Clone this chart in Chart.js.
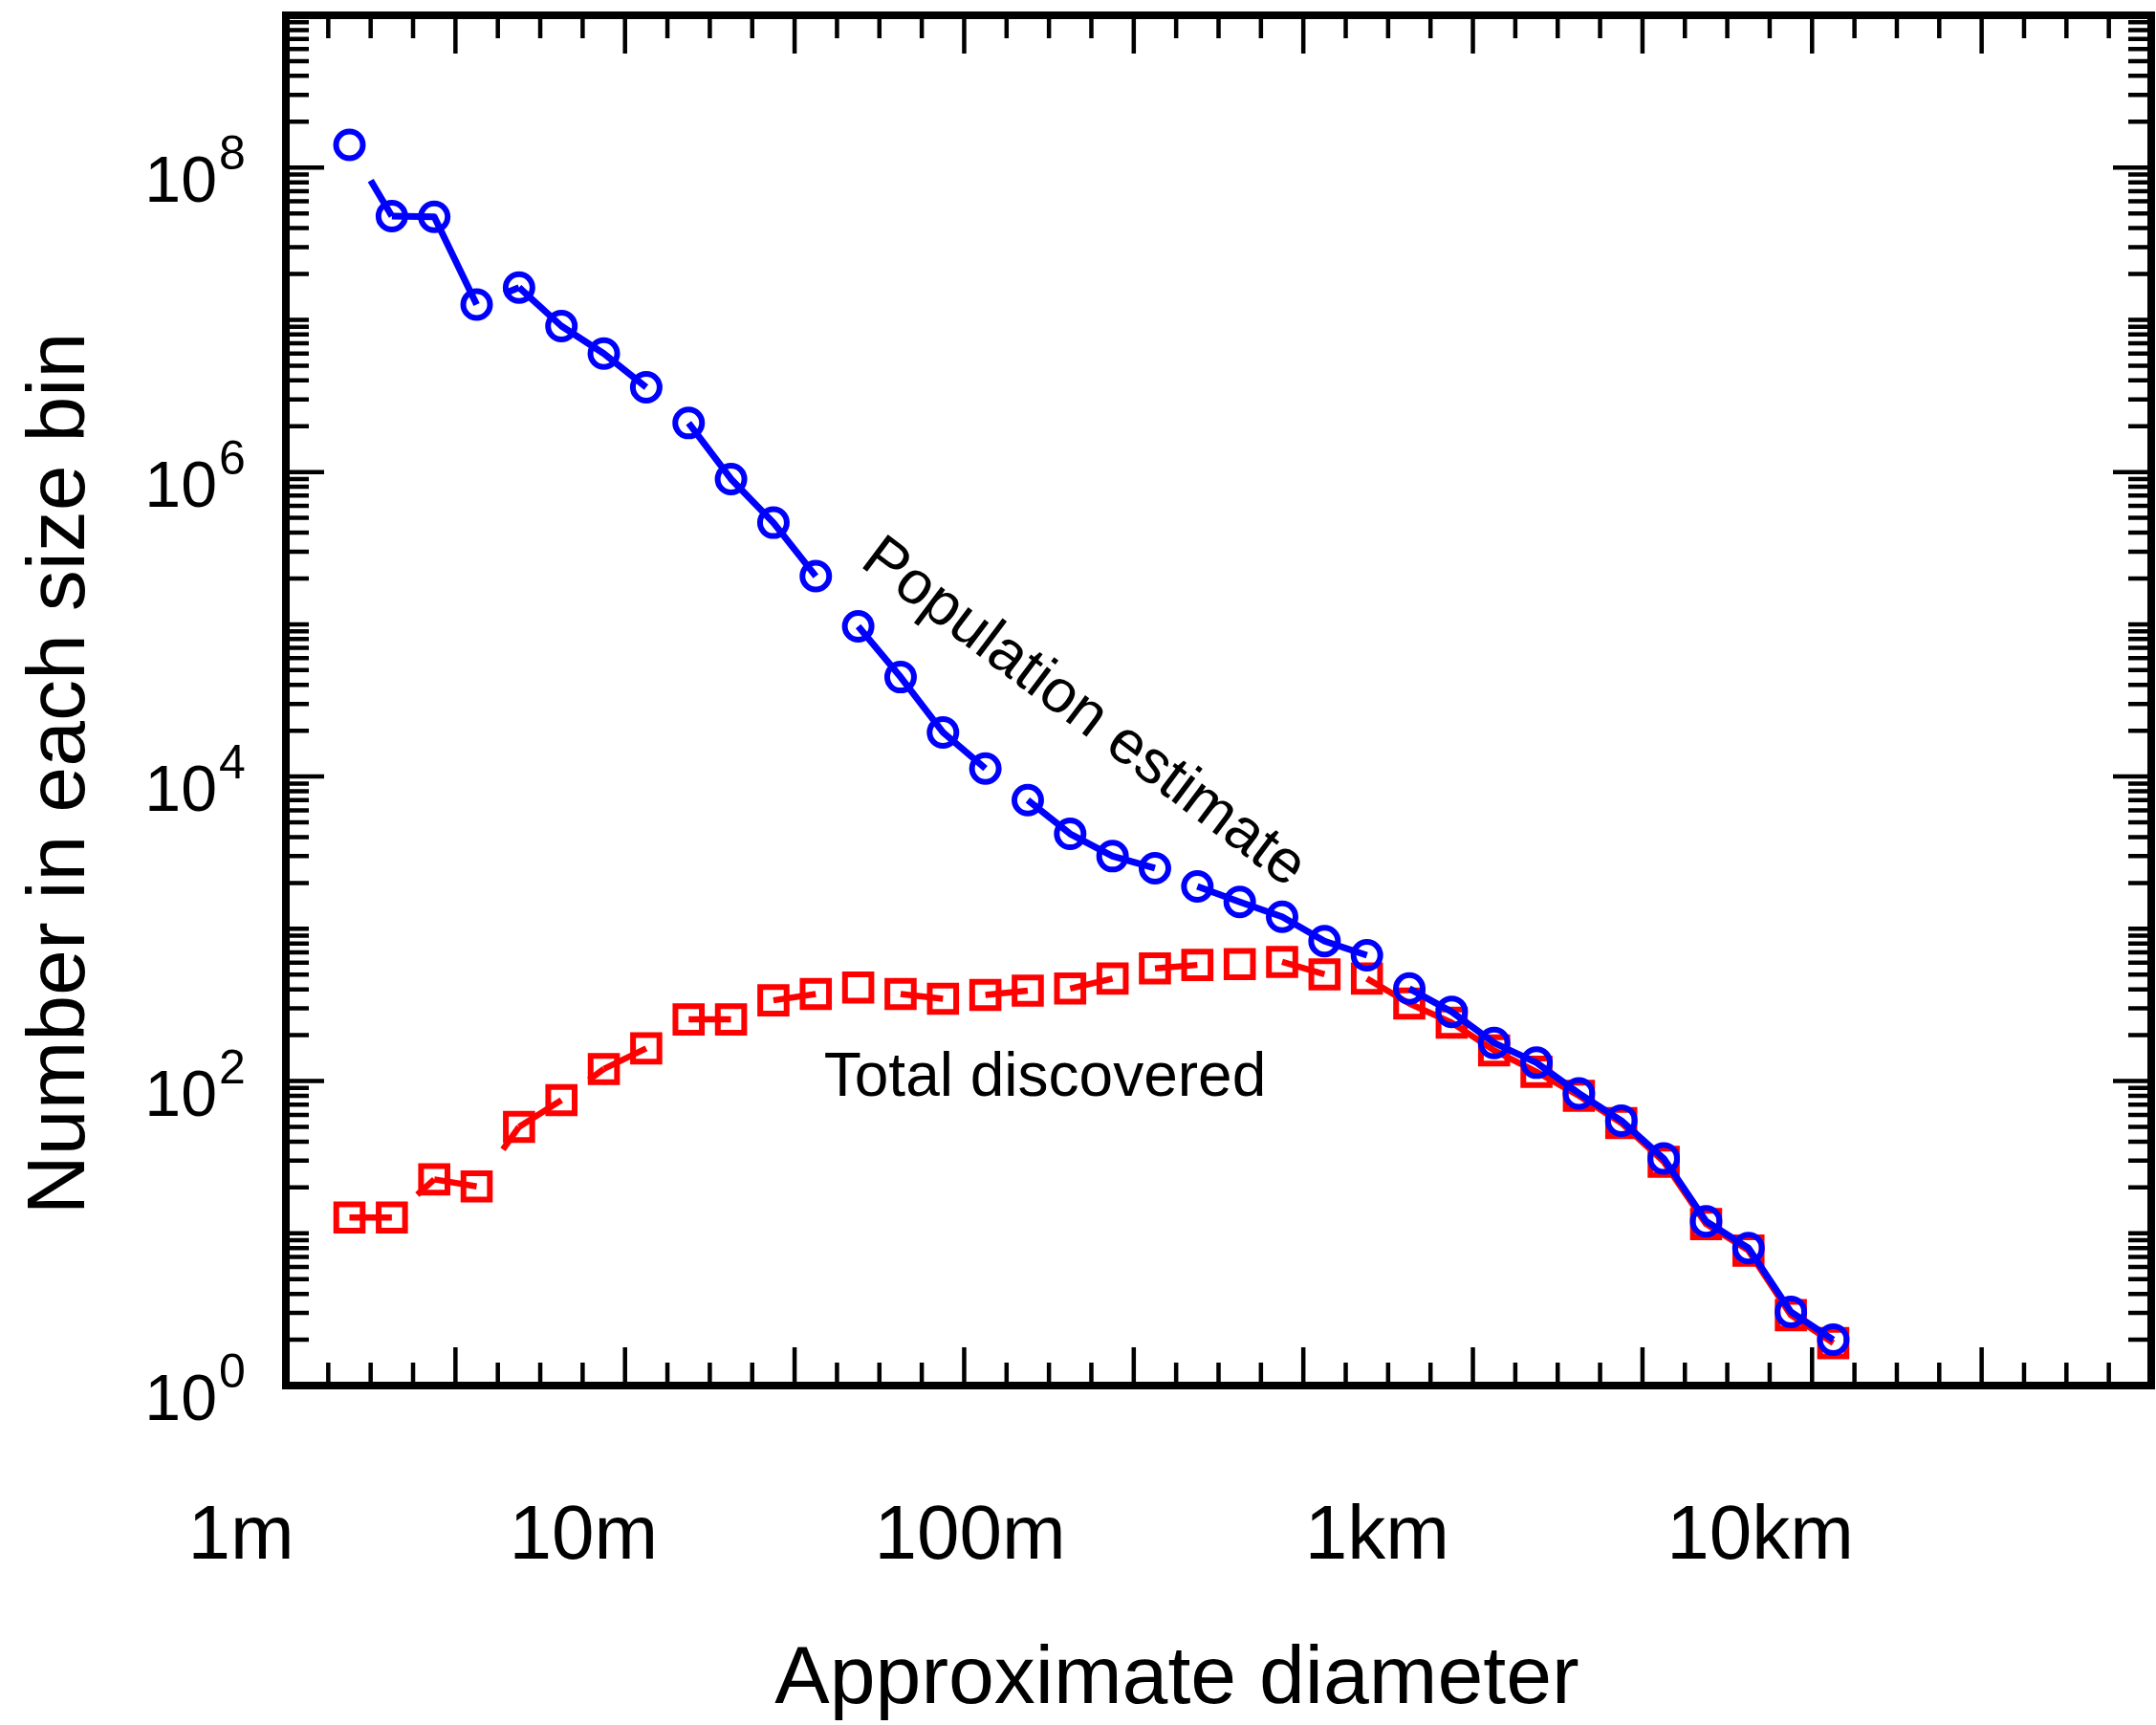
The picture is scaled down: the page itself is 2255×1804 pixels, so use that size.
<!DOCTYPE html>
<html>
<head>
<meta charset="utf-8">
<title>Population estimate vs total discovered</title>
<script src="https://cdn.jsdelivr.net/npm/chart.js@4.4.0/dist/chart.umd.min.js"></script>
<style>
  html, body { margin: 0; padding: 0; background: #fff; overflow: hidden; }
  #wrap { width: 2255px; height: 1804px; }
</style>
</head>
<body>
<div id="wrap"><canvas id="chart"></canvas></div>
<script>
// bin centres (absolute magnitude H, axis runs 33 -> 11)
const absMag = [32.25, 31.75, 31.25, 30.75, 30.25, 29.75, 29.25, 28.75, 28.25, 27.75,
  27.25, 26.75, 26.25, 25.75, 25.25, 24.75, 24.25, 23.75, 23.25, 22.75,
  22.25, 21.75, 21.25, 20.75, 20.25, 19.75, 19.25, 18.75, 18.25, 17.75,
  17.25, 16.75, 16.25, 15.75, 15.25, 14.75];

// blue circles
const population = [1.41e8, 4.8e7, 4.75e7, 1.26e7, 1.63e7, 9.1e6, 6.0e6, 3.6e6, 2.1e6, 9.0e5,
  4.65e5, 2.07e5, 9.7e4, 4.5e4, 1.95e4, 1.13e4, 7.0e3, 4.2e3, 3.0e3, 2.5e3,
  1.9e3, 1.5e3, 1.2e3, 830, 670, 405, 285, 178, 132, 83,
  55, 31, 12, 8, 3.05, 2.0];

// red squares
const discovered = [12.7, 12.7, 22.6, 20.3, 50, 75, 120, 164, 254, 254,
  339, 373, 411, 373, 347, 368, 393, 405, 471, 550,
  579, 587, 606, 502, 471, 323, 242, 159, 115, 80,
  53, 29.5, 11.5, 7.7, 2.9, 1.9];

const sizeLabels = ['1m', '10m', '100m', '1km', '10km'];
const sizeLabelMag = [33.53, 29.49, 24.93, 20.13, 15.61];
const yLabelExps = [0, 2, 4, 6, 8];

// how much of each connecting segment is drawn (1 full, 0 none, else only the end part)
const blueSegs = [0.5, 1, 1, 0.35, 1, 1, 1, 0, 1, 1, 1, 0, 1, 1, 1, 0, 1, 1, 1, 0,
  1, 1, 1, 1, 0, 1, 1, 1, 1, 1, 1, 1, 1, 1, 1];
const redSegs = [1, 0.4, 1, 0.38, 1, 0.35, 1, 0, 1, 0, 1, 0, 0, 1, 0, 1, 0, 1, 0, 1,
  0, 0, 1, 0, 1, 1, 1, 1, 1, 1, 1, 1, 1, 1, 1];

const FONT = '"Liberation Sans", Arial, Helvetica, sans-serif';
const BLUE = '#0000ff';
const RED = '#ff0000';

function segColor(fracs) {
  return ctx => fracs[ctx.p0DataIndex] === 0 ? 'rgba(0,0,0,0)' : undefined;
}
function segDash(fracs) {
  return ctx => {
    const f = fracs[ctx.p0DataIndex];
    if (f === undefined || f <= 0 || f >= 1) return undefined;
    const len = Math.hypot(ctx.p1.x - ctx.p0.x, ctx.p1.y - ctx.p0.y);
    return [0, len * (1 - f), len + 50];
  };
}

const toPoints = vals => absMag.map((h, i) => ({ x: h, y: vals[i] }));

// inward tick marks on all four sides, frame and all the text
const frameAndText = {
  id: 'frameAndText',
  afterDraw(chart) {
    const { ctx, chartArea: a, scales: { x, y } } = chart;
    ctx.save();
    ctx.strokeStyle = '#000';
    ctx.lineWidth = 4.5;
    ctx.beginPath();
    for (let h = 11.5; h < 33; h += 0.5) {
      const px = x.getPixelForValue(h);
      const len = (h % 2 === 1) ? 40 : 24;
      ctx.moveTo(px, a.bottom); ctx.lineTo(px, a.bottom - len);
      ctx.moveTo(px, a.top); ctx.lineTo(px, a.top + len);
    }
    for (let k = 0; k < 9; k++) {
      for (let m = 1; m < 10; m++) {
        if (k === 0 && m === 1) continue;
        const py = y.getPixelForValue(m * Math.pow(10, k));
        const len = (m === 1 && k % 2 === 0) ? 40 : 24;
        ctx.moveTo(a.left, py); ctx.lineTo(a.left + len, py);
        ctx.moveTo(a.right, py); ctx.lineTo(a.right - len, py);
      }
    }
    ctx.stroke();

    ctx.lineWidth = 8;
    ctx.strokeRect(a.left, a.top, a.right - a.left, a.bottom - a.top);

    ctx.fillStyle = '#000';
    ctx.textBaseline = 'alphabetic';

    // y tick labels 10^k
    yLabelExps.forEach(k => {
      const py = y.getPixelForValue(Math.pow(10, k));
      ctx.font = '68px ' + FONT;
      ctx.textAlign = 'right';
      ctx.fillText('10', a.left - 72, py + 36);
      ctx.font = '50px ' + FONT;
      ctx.textAlign = 'left';
      ctx.fillText(String(k), a.left - 70, py + 2);
    });

    // diameter labels
    ctx.font = '80px ' + FONT;
    ctx.textAlign = 'center';
    sizeLabels.forEach((t, i) => {
      ctx.fillText(t, x.getPixelForValue(sizeLabelMag[i]), a.bottom + 181);
    });

    // axis titles
    ctx.font = '86px ' + FONT;
    ctx.fillText('Approximate diameter', 1231, 1781);
    ctx.save();
    ctx.translate(88, 809);
    ctx.rotate(-Math.PI / 2);
    ctx.fillText('Number in each size bin', 0, 0);
    ctx.restore();

    // curve annotations
    ctx.font = '64px ' + FONT;
    ctx.fillText('Total discovered', 1093, 1146);
    ctx.save();
    ctx.translate(898, 591);
    ctx.rotate(37 * Math.PI / 180);
    ctx.textAlign = 'left';
    ctx.fillText('Population estimate', 0, 0);
    ctx.restore();

    ctx.restore();
  }
};

const axisBits = {
  grid: { display: false, drawTicks: false },
  ticks: { display: false },
  border: { display: true, width: 8, color: '#000' }
};

new Chart(document.getElementById('chart'), {
  type: 'line',
  data: {
    datasets: [
      {
        label: 'Population estimate',
        data: toPoints(population),
        borderColor: BLUE,
        borderWidth: 7,
        borderCapStyle: 'butt',
        borderJoinStyle: 'round',
        pointStyle: 'circle',
        pointRadius: 14,
        pointBorderWidth: 6,
        pointBorderColor: BLUE,
        pointBackgroundColor: 'rgba(0,0,0,0)',
        fill: false,
        tension: 0,
        segment: { borderColor: segColor(blueSegs), borderDash: segDash(blueSegs) }
      },
      {
        label: 'Total discovered',
        data: toPoints(discovered),
        borderColor: RED,
        borderWidth: 6.5,
        borderCapStyle: 'butt',
        borderJoinStyle: 'round',
        pointStyle: 'rect',
        pointRadius: 19.5,
        pointBorderWidth: 6,
        pointBorderColor: RED,
        pointBackgroundColor: 'rgba(0,0,0,0)',
        fill: false,
        tension: 0,
        segment: { borderColor: segColor(redSegs), borderDash: segDash(redSegs) }
      }
    ]
  },
  options: {
    responsive: true,
    maintainAspectRatio: false,
    animation: false,
    events: [],
    layout: { autoPadding: false, padding: { left: 299, right: 5, top: 16, bottom: 355 } },
    plugins: { legend: { display: false }, tooltip: { enabled: false } },
    scales: {
      x: Object.assign({ type: 'linear', position: 'bottom', min: 11, max: 33, reverse: true }, axisBits),
      y: Object.assign({ type: 'logarithmic', position: 'left', min: 1, max: 1e9 }, axisBits)
    }
  },
  plugins: [frameAndText]
});
</script>
</body>
</html>
